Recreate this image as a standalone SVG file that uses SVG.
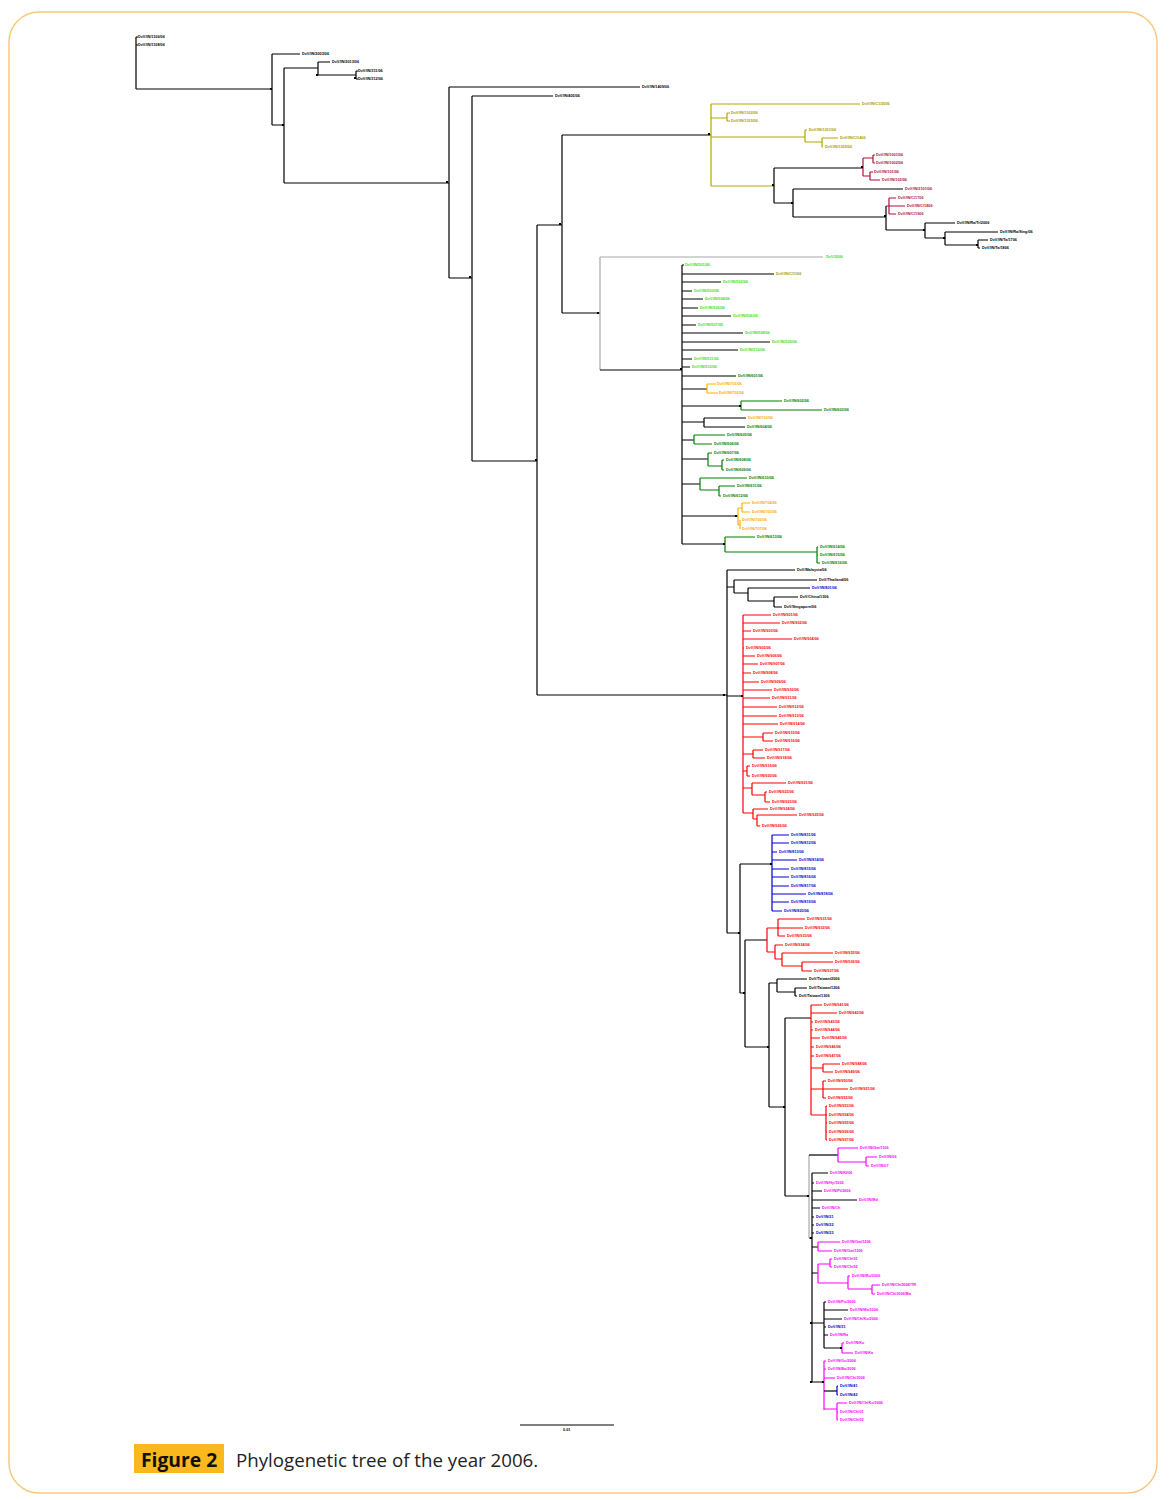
<svg xmlns="http://www.w3.org/2000/svg" width="1171" height="1500" viewBox="0 0 1171 1500">
<style>
path{fill:none;stroke-width:1.2}
.k{stroke:#000}.yl{stroke:#b3a600}.cr{stroke:#b0103a}.gr{stroke:#a8a8a8}.dg{stroke:#008000}.or{stroke:#ffb100}.rd{stroke:#ff0000}.bl{stroke:#0000cc}.mg{stroke:#ff00ff}
text{font-family:"Liberation Sans",Arial,sans-serif;font-size:3.8px;font-weight:bold}
.tk{fill:#000}.ty{fill:#a89c00}.tc{fill:#b0103a}.tl{fill:#44e01a}.td{fill:#008000}.to{fill:#ffa800}.tr{fill:#ff0000}.tb{fill:#0000cc}.tm{fill:#ff00ff}
.nd{fill:#000}
</style>
<rect x="9" y="12" width="1148" height="1481" rx="30" fill="#fff" stroke="#f7c97a" stroke-width="1.5"/>
<g id="connectors">
<path class="k" d="M136,37V89M136,37H138M136,45H138M136,89H272M272,54V125M272,54H300M272,125H284M284,68V183M284,68H318M318,62V75M318,62H330M318,75H356M356,71V79M356,71H358M356,79H358M284,183H449M449,87V278M449,87H640M449,278H472M472,96V461M472,96H553M472,461H537M537,225V695M537,225H562M562,135V313M562,135H711M562,313H600M537,695H727"/>
<path class="yl" d="M711,104V186M711,104H860M711,118H727M727,113V121M727,113H730M727,121H730M711,137H805M805,130V142M805,130H807M805,142H822M822,138V147M822,138H838M822,147H823M711,186H774"/>
<path class="k" d="M774,168V203M774,168H863M774,203H793M793,189V217M793,189H903M793,217H886M886,206V230M886,230H925M925,223V238M925,223H955M925,238H945M945,232V245M945,232H998M945,245H978M978,240V248M978,240H988M978,248H980"/>
<path class="cr" d="M863,158V176M863,158H873M873,155V163M873,155H875M873,163H875M863,176H870M870,172V180M870,172H873M870,180H880M886,206H889M889,198V214M889,198H896M889,206H905M889,214H896"/>
<path class="gr" d="M600,257V370M600,257H823"/>
<path class="k" d="M600,370H682M682,265V544M682,265H684M682,274H774M682,282H721M682,291H692M682,299H703M682,308H698M682,316H731M682,325H696M682,333H743M682,342H770M682,350H738M682,359H692M682,367H690M682,376H736M682,389H707M682,406H741M682,422H704M704,418V427M704,418H746M704,427H745M682,440H694M682,459H708M682,484H700M682,516H738M682,544H725"/>
<path class="or" d="M707,384V393M707,384H716M707,393H718M738,508V525M738,508H742M742,503V512M742,503H750M742,512H750M738,525H740M740,520V529M740,520H740M740,529H740"/>
<path class="dg" d="M741,401V410M741,401H782M741,410H822M694,435V444M694,435H725M694,444H712M708,453V466M708,453H712M708,466H722M722,460V470M722,460H724M722,470H724M700,478V490M700,478H747M700,490H719M719,486V496M719,486H735M719,496H721M725,537V552M725,537H755M725,552H817M817,547V563M817,547H818M817,555H818M817,563H820"/>
<path class="k" d="M727,570V933M727,570H795M727,587H734M734,580V593M734,580H817M734,593H748M748,588V601M748,588H810M748,601H774M774,597V607M774,597H798M774,607H782M727,696H743M727,933H740M740,864V993M740,864H772M740,993H745M745,940V1047M745,940H767M745,1047H769M769,983V1107M769,983H777M777,979V992M777,979H807M777,992H795M795,988V996M795,988H807M795,996H797M769,1107H785M785,1018V1196M785,1018H811M785,1196H809M809,1238H812M812,1173V1382M812,1173H828M812,1183H814M812,1191H822M812,1200H857M812,1208H820M812,1217H814M812,1225H814M812,1233H814M812,1247H818M812,1273H818M812,1323H824M824,1302V1348M824,1302H826M824,1310H848M824,1319H842M824,1327H826M824,1335H828M824,1348H842M812,1382H824"/>
<path class="gr" d="M809,1155V1238"/>
<path class="k" d="M809,1155H838"/>
<path class="rd" d="M743,615V813M743,615H771M743,623H780M743,631H751M743,639H792M743,648H744M743,656H755M743,664H758M743,673H751M743,682H759M743,690H772M743,698H770M743,707H777M743,716H777M743,724H778M743,737H763M763,733V741M763,733H773M763,741H773M743,754H753M753,750V758M753,750H763M753,758H765M743,771H747M747,766V776M747,766H750M747,776H750M743,788H752M752,783V795M752,783H786M752,795H765M765,792V802M765,792H767M765,802H770M743,813H753M753,809V819M753,809H768M753,819H757M757,815V826M757,815H797M757,826H760"/>
<path class="bl" d="M772,835V911M772,835H789M772,843H789M772,852H777M772,860H797M772,869H789M772,877H789M772,886H789M772,894H806M772,902H789M772,911H782"/>
<path class="rd" d="M767,928V952M767,928H778M778,919V936M778,919H805M778,928H803M778,936H785M767,952H775M775,945V959M775,945H783M775,959H782M782,953V966M782,953H833M782,966H802M802,962V971M802,962H833M802,971H812"/>
<path class="rd" d="M811,1005V1115M811,1005H822M811,1013H837M811,1022H813M811,1030H813M811,1038H820M811,1047H814M811,1056H814M811,1068H823M823,1064V1072M823,1064H840M823,1072H833M811,1089H823M823,1081V1098M823,1081H826M823,1089H848M823,1098H826M811,1115H826M826,1106V1140M826,1106H827M826,1115H827M826,1123H827M826,1132H827M826,1140H827"/>
<path class="mg" d="M838,1148V1162M838,1148H858M838,1162H866M866,1157V1166M866,1157H877M866,1166H869M818,1242V1251M818,1242H840M818,1251H832M818,1264V1283M818,1264H830M830,1259V1267M830,1259H832M830,1267H832M818,1283H848M848,1276V1289M848,1276H850M848,1289H872M872,1285V1294M872,1285H880M872,1294H875M842,1343V1353M842,1343H844M842,1353H853M824,1361V1410M824,1361H826M824,1369H826M824,1378H835M824,1409H837M837,1403V1420M837,1403H847M837,1412H838M837,1420H838"/>
<path class="k" d="M824,1391H837"/>
<path class="bl" d="M837,1386V1395M837,1386H838M837,1395H838"/>
</g>
<g id="nodemarks" class="nd">
<rect x="270" y="88" width="2" height="2"/><rect x="282" y="124" width="2" height="2"/><rect x="316" y="74" width="2" height="2"/><rect x="354" y="77" width="2" height="2"/><rect x="446" y="181" width="2" height="2"/><rect x="469" y="276" width="2" height="2"/><rect x="535" y="459" width="2" height="2"/><rect x="559" y="223" width="2" height="2"/><rect x="597" y="312" width="2" height="2"/><rect x="680" y="368" width="2" height="2"/><rect x="708" y="133" width="2" height="2"/><rect x="772" y="184" width="2" height="2"/><rect x="791" y="202" width="2" height="2"/><rect x="861" y="166" width="2" height="2"/><rect x="884" y="215" width="2" height="2"/><rect x="923" y="229" width="2" height="2"/><rect x="943" y="237" width="2" height="2"/><rect x="976" y="244" width="2" height="2"/><rect x="739" y="405" width="2" height="2"/><rect x="735" y="515" width="2" height="2"/><rect x="723" y="543" width="2" height="2"/><rect x="723" y="694" width="2" height="2"/><rect x="741" y="695" width="2" height="2"/><rect x="738" y="932" width="2" height="2"/><rect x="770" y="863" width="2" height="2"/><rect x="743" y="992" width="2" height="2"/><rect x="767" y="1046" width="2" height="2"/><rect x="783" y="1106" width="2" height="2"/><rect x="807" y="1195" width="2" height="2"/><rect x="810" y="1237" width="2" height="2"/><rect x="810" y="1322" width="2" height="2"/><rect x="810" y="1381" width="2" height="2"/><rect x="822" y="1381" width="2" height="2"/><rect x="840" y="1347" width="2" height="2"/>
</g>
<g id="n1"><text class="tk" x="138" y="38.3">DvV/IN/1106/06</text></g>
<g id="n2"><text class="tk" x="138" y="46.3">DvV/IN/1108/06</text></g>
<g id="n3"><text class="tk" x="302" y="55.3">DvV/IN/2003/06</text></g>
<g id="n4"><text class="tk" x="332" y="63.3">DvV/IN/2013/06</text></g>
<g id="n5"><text class="tk" x="358" y="72.3">DvV/IN/311/06</text></g>
<g id="n6"><text class="tk" x="358" y="80.3">DvV/IN/312/06</text></g>
<g id="n7"><text class="tk" x="642" y="88.3">DvV/IN/1409/06</text></g>
<g id="n8"><text class="tk" x="555" y="97.3">DvV/IN/405/06</text></g>
<g id="n9"><text class="ty" x="862" y="105.3">DvV/IN/C1/2006</text></g>
<g id="n10"><text class="ty" x="731" y="114.3">DvV/IN/1102/06</text></g>
<g id="n11"><text class="ty" x="731" y="122.3">DvV/IN/1103/06</text></g>
<g id="n12"><text class="ty" x="809" y="131.3">DvV/IN/1201/06</text></g>
<g id="n13"><text class="ty" x="840" y="139.3">DvV/IN/C/1406</text></g>
<g id="n14"><text class="ty" x="825" y="148.3">DvV/IN/1205/06</text></g>
<g id="n15"><text class="tc" x="876" y="156.3">DvV/IN/1001/06</text></g>
<g id="n16"><text class="tc" x="876" y="164.3">DvV/IN/1002/06</text></g>
<g id="n17"><text class="tc" x="874" y="173.3">DvV/IN/101/06</text></g>
<g id="n18"><text class="tc" x="882" y="181.3">DvV/IN/102/06</text></g>
<g id="n19"><text class="tc" x="905" y="190.3">DvV/IN/2101/06</text></g>
<g id="n20"><text class="tc" x="898" y="199.3">DvV/IN/C/1706</text></g>
<g id="n21"><text class="tc" x="907" y="207.3">DvV/IN/C/1806</text></g>
<g id="n22"><text class="tc" x="898" y="215.3">DvV/IN/C/1906</text></g>
<g id="n23"><text class="tk" x="957" y="224.3">DvV/IN/Ra/Tr/2006</text></g>
<g id="n24"><text class="tk" x="1000" y="233.3">DvV/IN/Ra/Sing/06</text></g>
<g id="n25"><text class="tk" x="990" y="241.3">DvV/IN/Ta/1706</text></g>
<g id="n26"><text class="tk" x="982" y="249.3">DvV/IN/Ta/1806</text></g>
<g id="n27"><text class="tl" x="826" y="258.3">DvV/2006</text></g>
<g id="n28"><text class="tl" x="685" y="266.3">DvV/IN/501/06</text></g>
<g id="n29"><text class="ty" x="776" y="275.3">DvV/IN/C/1106</text></g>
<g id="n30"><text class="tl" x="723" y="283.3">DvV/IN/502/06</text></g>
<g id="n31"><text class="tl" x="694" y="292.3">DvV/IN/503/06</text></g>
<g id="n32"><text class="tl" x="705" y="300.3">DvV/IN/504/06</text></g>
<g id="n33"><text class="tl" x="700" y="309.3">DvV/IN/505/06</text></g>
<g id="n34"><text class="tl" x="733" y="317.3">DvV/IN/506/06</text></g>
<g id="n35"><text class="tl" x="698" y="326.3">DvV/IN/507/06</text></g>
<g id="n36"><text class="tl" x="745" y="334.3">DvV/IN/508/06</text></g>
<g id="n37"><text class="tl" x="772" y="343.3">DvV/IN/509/06</text></g>
<g id="n38"><text class="tl" x="740" y="351.3">DvV/IN/510/06</text></g>
<g id="n39"><text class="tl" x="694" y="360.3">DvV/IN/511/06</text></g>
<g id="n40"><text class="tl" x="692" y="368.3">DvV/IN/512/06</text></g>
<g id="n41"><text class="td" x="738" y="377.3">DvV/IN/601/06</text></g>
<g id="n42"><text class="to" x="717" y="385.3">DvV/IN/701/06</text></g>
<g id="n43"><text class="to" x="719" y="394.3">DvV/IN/702/06</text></g>
<g id="n44"><text class="td" x="784" y="402.3">DvV/IN/602/06</text></g>
<g id="n45"><text class="td" x="824" y="411.3">DvV/IN/603/06</text></g>
<g id="n46"><text class="to" x="748" y="419.3">DvV/IN/703/06</text></g>
<g id="n47"><text class="td" x="747" y="428.3">DvV/IN/604/06</text></g>
<g id="n48"><text class="td" x="727" y="436.3">DvV/IN/605/06</text></g>
<g id="n49"><text class="td" x="714" y="445.3">DvV/IN/606/06</text></g>
<g id="n50"><text class="td" x="714" y="454.3">DvV/IN/607/06</text></g>
<g id="n51"><text class="td" x="726" y="461.3">DvV/IN/608/06</text></g>
<g id="n52"><text class="td" x="726" y="471.3">DvV/IN/609/06</text></g>
<g id="n53"><text class="td" x="749" y="479.3">DvV/IN/610/06</text></g>
<g id="n54"><text class="td" x="737" y="487.3">DvV/IN/611/06</text></g>
<g id="n55"><text class="td" x="723" y="497.3">DvV/IN/612/06</text></g>
<g id="n56"><text class="to" x="752" y="504.3">DvV/IN/704/06</text></g>
<g id="n57"><text class="to" x="752" y="513.3">DvV/IN/705/06</text></g>
<g id="n58"><text class="to" x="742" y="521.3">DvV/IN/706/06</text></g>
<g id="n59"><text class="to" x="742" y="530.3">DvV/IN/707/06</text></g>
<g id="n60"><text class="td" x="757" y="538.3">DvV/IN/613/06</text></g>
<g id="n61"><text class="td" x="820" y="548.3">DvV/IN/614/06</text></g>
<g id="n62"><text class="td" x="820" y="556.3">DvV/IN/615/06</text></g>
<g id="n63"><text class="td" x="822" y="564.3">DvV/IN/616/06</text></g>
<g id="n64"><text class="tk" x="797" y="571.3">DvV/Malaysia/06</text></g>
<g id="n65"><text class="tk" x="819" y="581.3">DvV/Thailand/06</text></g>
<g id="n66"><text class="tb" x="812" y="589.3">DvV/IN/801/06</text></g>
<g id="n67"><text class="tk" x="800" y="598.3">DvV/China/1306</text></g>
<g id="n68"><text class="tk" x="784" y="608.3">DvV/Singapore/06</text></g>
<g id="n69"><text class="tr" x="773" y="616.3">DvV/IN/901/06</text></g>
<g id="n70"><text class="tr" x="782" y="624.3">DvV/IN/902/06</text></g>
<g id="n71"><text class="tr" x="753" y="632.3">DvV/IN/903/06</text></g>
<g id="n72"><text class="tr" x="794" y="640.3">DvV/IN/904/06</text></g>
<g id="n73"><text class="tr" x="746" y="649.3">DvV/IN/905/06</text></g>
<g id="n74"><text class="tr" x="757" y="657.3">DvV/IN/906/06</text></g>
<g id="n75"><text class="tr" x="760" y="665.3">DvV/IN/907/06</text></g>
<g id="n76"><text class="tr" x="753" y="674.3">DvV/IN/908/06</text></g>
<g id="n77"><text class="tr" x="761" y="683.3">DvV/IN/909/06</text></g>
<g id="n78"><text class="tr" x="774" y="691.3">DvV/IN/910/06</text></g>
<g id="n79"><text class="tr" x="772" y="699.3">DvV/IN/911/06</text></g>
<g id="n80"><text class="tr" x="779" y="708.3">DvV/IN/912/06</text></g>
<g id="n81"><text class="tr" x="779" y="717.3">DvV/IN/913/06</text></g>
<g id="n82"><text class="tr" x="780" y="725.3">DvV/IN/914/06</text></g>
<g id="n83"><text class="tr" x="775" y="734.3">DvV/IN/915/06</text></g>
<g id="n84"><text class="tr" x="775" y="742.3">DvV/IN/916/06</text></g>
<g id="n85"><text class="tr" x="765" y="751.3">DvV/IN/917/06</text></g>
<g id="n86"><text class="tr" x="767" y="759.3">DvV/IN/918/06</text></g>
<g id="n87"><text class="tr" x="752" y="767.3">DvV/IN/919/06</text></g>
<g id="n88"><text class="tr" x="752" y="777.3">DvV/IN/920/06</text></g>
<g id="n89"><text class="tr" x="788" y="784.3">DvV/IN/921/06</text></g>
<g id="n90"><text class="tr" x="769" y="793.3">DvV/IN/922/06</text></g>
<g id="n91"><text class="tr" x="772" y="803.3">DvV/IN/923/06</text></g>
<g id="n92"><text class="tr" x="770" y="810.3">DvV/IN/924/06</text></g>
<g id="n93"><text class="tr" x="799" y="816.3">DvV/IN/925/06</text></g>
<g id="n94"><text class="tr" x="762" y="827.3">DvV/IN/926/06</text></g>
<g id="n95"><text class="tb" x="791" y="836.3">DvV/IN/811/06</text></g>
<g id="n96"><text class="tb" x="791" y="844.3">DvV/IN/812/06</text></g>
<g id="n97"><text class="tb" x="779" y="853.3">DvV/IN/813/06</text></g>
<g id="n98"><text class="tb" x="799" y="861.3">DvV/IN/814/06</text></g>
<g id="n99"><text class="tb" x="791" y="870.3">DvV/IN/815/06</text></g>
<g id="n100"><text class="tb" x="791" y="878.3">DvV/IN/816/06</text></g>
<g id="n101"><text class="tb" x="791" y="887.3">DvV/IN/817/06</text></g>
<g id="n102"><text class="tb" x="808" y="895.3">DvV/IN/818/06</text></g>
<g id="n103"><text class="tb" x="791" y="903.3">DvV/IN/819/06</text></g>
<g id="n104"><text class="tb" x="784" y="912.3">DvV/IN/820/06</text></g>
<g id="n105"><text class="tr" x="807" y="920.3">DvV/IN/931/06</text></g>
<g id="n106"><text class="tr" x="805" y="929.3">DvV/IN/932/06</text></g>
<g id="n107"><text class="tr" x="787" y="937.3">DvV/IN/933/06</text></g>
<g id="n108"><text class="tr" x="785" y="946.3">DvV/IN/934/06</text></g>
<g id="n109"><text class="tr" x="835" y="954.3">DvV/IN/935/06</text></g>
<g id="n110"><text class="tr" x="835" y="963.3">DvV/IN/936/06</text></g>
<g id="n111"><text class="tr" x="814" y="972.3">DvV/IN/937/06</text></g>
<g id="n112"><text class="tk" x="809" y="980.3">DvV/Taiwan/2006</text></g>
<g id="n113"><text class="tk" x="809" y="989.3">DvV/Taiwan/1206</text></g>
<g id="n114"><text class="tk" x="799" y="997.3">DvV/Taiwan/1306</text></g>
<g id="n115"><text class="tr" x="824" y="1006.3">DvV/IN/941/06</text></g>
<g id="n116"><text class="tr" x="839" y="1014.3">DvV/IN/942/06</text></g>
<g id="n117"><text class="tr" x="815" y="1023.3">DvV/IN/943/06</text></g>
<g id="n118"><text class="tr" x="815" y="1031.3">DvV/IN/944/06</text></g>
<g id="n119"><text class="tr" x="822" y="1039.3">DvV/IN/945/06</text></g>
<g id="n120"><text class="tr" x="816" y="1048.3">DvV/IN/946/06</text></g>
<g id="n121"><text class="tr" x="816" y="1057.3">DvV/IN/947/06</text></g>
<g id="n122"><text class="tr" x="842" y="1065.3">DvV/IN/948/06</text></g>
<g id="n123"><text class="tr" x="835" y="1073.3">DvV/IN/949/06</text></g>
<g id="n124"><text class="tr" x="828" y="1082.3">DvV/IN/950/06</text></g>
<g id="n125"><text class="tr" x="850" y="1090.3">DvV/IN/951/06</text></g>
<g id="n126"><text class="tr" x="828" y="1099.3">DvV/IN/952/06</text></g>
<g id="n127"><text class="tr" x="829" y="1107.3">DvV/IN/953/06</text></g>
<g id="n128"><text class="tr" x="829" y="1116.3">DvV/IN/954/06</text></g>
<g id="n129"><text class="tr" x="829" y="1124.3">DvV/IN/955/06</text></g>
<g id="n130"><text class="tr" x="829" y="1133.3">DvV/IN/956/06</text></g>
<g id="n131"><text class="tr" x="829" y="1141.3">DvV/IN/957/06</text></g>
<g id="n132"><text class="tm" x="860" y="1149.3">DvV/IN/Gw/1106</text></g>
<g id="n133"><text class="tm" x="879" y="1158.3">DvV/IN/06</text></g>
<g id="n134"><text class="tm" x="871" y="1167.3">DvV/IN/07</text></g>
<g id="n135"><text class="tm" x="830" y="1174.3">DvV/IN/Kl/06</text></g>
<g id="n136"><text class="tm" x="816" y="1184.3">DvV/IN/Hy/1006</text></g>
<g id="n137"><text class="tm" x="824" y="1192.3">DvV/IN/Pt/2006</text></g>
<g id="n138"><text class="tm" x="859" y="1201.3">DvV/IN/Md</text></g>
<g id="n139"><text class="tm" x="822" y="1209.3">DvV/IN/Ch</text></g>
<g id="n140"><text class="tb" x="816" y="1218.3">DvV/IN/21</text></g>
<g id="n141"><text class="tb" x="816" y="1226.3">DvV/IN/22</text></g>
<g id="n142"><text class="tb" x="816" y="1234.3">DvV/IN/23</text></g>
<g id="n143"><text class="tm" x="842" y="1243.3">DvV/IN/Gw/1206</text></g>
<g id="n144"><text class="tm" x="834" y="1252.3">DvV/IN/Gw/1306</text></g>
<g id="n145"><text class="tm" x="834" y="1260.3">DvV/IN/Ch/01</text></g>
<g id="n146"><text class="tm" x="834" y="1268.3">DvV/IN/Ch/02</text></g>
<g id="n147"><text class="tm" x="852" y="1277.3">DvV/IN/Mu/2006</text></g>
<g id="n148"><text class="tm" x="882" y="1286.3">DvV/IN/Ch/2006/TR</text></g>
<g id="n149"><text class="tm" x="877" y="1295.3">DvV/IN/Ch/2006/Ba</text></g>
<g id="n150"><text class="tm" x="828" y="1303.3">DvV/IN/Pu/2006</text></g>
<g id="n151"><text class="tm" x="850" y="1311.3">DvV/IN/Ma/2006</text></g>
<g id="n152"><text class="tm" x="844" y="1320.3">DvV/IN/Ch/Ko/2006</text></g>
<g id="n153"><text class="tb" x="828" y="1328.3">DvV/IN/31</text></g>
<g id="n154"><text class="tm" x="830" y="1336.3">DvV/IN/Ra</text></g>
<g id="n155"><text class="tm" x="846" y="1344.3">DvV/IN/Ko</text></g>
<g id="n156"><text class="tm" x="855" y="1354.3">DvV/IN/Ka</text></g>
<g id="n157"><text class="tm" x="828" y="1362.3">DvV/IN/Gu/2006</text></g>
<g id="n158"><text class="tm" x="828" y="1370.3">DvV/IN/Ba/2006</text></g>
<g id="n159"><text class="tm" x="837" y="1379.3">DvV/IN/Ch/2006</text></g>
<g id="n160"><text class="tb" x="840" y="1387.3">DvV/IN/41</text></g>
<g id="n161"><text class="tb" x="840" y="1396.3">DvV/IN/42</text></g>
<g id="n162"><text class="tm" x="849" y="1404.3">DvV/IN/Ch/Ko/2006</text></g>
<g id="n163"><text class="tm" x="840" y="1413.3">DvV/IN/Ch/01</text></g>
<g id="n164"><text class="tm" x="840" y="1421.3">DvV/IN/Ch/02</text></g>
<g id="scalebar">
<path class="k" d="M520,1425H614" stroke-width="1"/>
<text class="tk" x="563" y="1431">0.01</text>
</g>
<g id="caption">
<rect x="134" y="1444" width="90" height="29" fill="#f9b81b"/>
<text x="141" y="1467" style="font-family:'Open Sans','Noto Sans',sans-serif;font-size:19.3px;font-weight:bold;fill:#111">Figure 2</text>
<text x="236" y="1467" style="font-family:'Open Sans','Noto Sans',sans-serif;font-size:18.7px;font-weight:normal;fill:#222">Phylogenetic tree of the year 2006.</text>
</g>
</svg>
